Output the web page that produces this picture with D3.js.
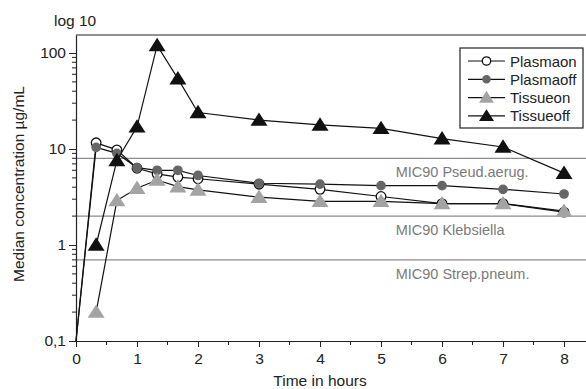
<!DOCTYPE html>
<html>
<head>
<meta charset="utf-8">
<script src="https://cdn.jsdelivr.net/npm/d3@7"></script>
<style>
  body { margin: 0; background: #fff; }
  text { font-family: "Liberation Sans", Arial, sans-serif; }
</style>
</head>
<body>
<div id="chart"></div>
<script>
// hours after dose
var hours = [0, 0.33, 0.67, 1, 1.33, 1.67, 2, 3, 4, 5, 6, 7, 8];

// median concentrations, µg/mL (null = no measurement)
var plasmaOn  = [0.1, 11.6, 9.8, 6.3, 5.5, 5.1, 4.9, 4.3, 3.8, 3.2, 2.7, 2.7, 2.2];
var plasmaOff = [0.1, 10.4, 9.0, 6.4, 6.0, 6.0, 5.3, 4.4, 4.3, 4.15, 4.15, 3.8, 3.4];
var tissueOn  = [null, 0.2, 2.9, 3.9, 4.75, 4.05, 3.75, 3.15, 2.85, 2.85, 2.7, 2.7, 2.25];
var tissueOff = [null, 1.0, 7.6, 17, 120, 54, 24, 20, 17.8, 16.4, 12.8, 10.5, 5.6];

var seriesNames = ["Plasmaon", "Plasmaoff", "Tissueon", "Tissueoff"];

var micNames = ["MIC90 Pseud.aerug.", "MIC90 Klebsiella", "MIC90 Strep.pneum."];
var micValues = [8, 2, 0.7];

var xTicks = [0, 1, 2, 3, 4, 5, 6, 7, 8];
var yTicks = [0.1, 1, 10, 100];
var yTickLabels = ["0,1", "1", "10", "100"];

var W = 586, H = 389;
var margin = { top: 35, right: 0, bottom: 48, left: 76 };
var width = W - margin.left - margin.right,
    height = H - margin.top - margin.bottom;

var svg = d3.select("#chart").append("svg")
    .attr("width", W)
    .attr("height", H);

var g = svg.append("g")
    .attr("transform", "translate(" + margin.left + "," + margin.top + ")");

var x = d3.scaleLinear().domain([0, 8.36]).range([0, width]);
var y = d3.scaleLog().domain([0.1, 154]).range([height, 0]);

// MIC90 reference lines
micValues.forEach(function (v, i) {
    g.append("line")
        .attr("x1", 0).attr("x2", width)
        .attr("y1", y(v)).attr("y2", y(v))
        .attr("stroke", "#8c8c8c")
        .attr("stroke-width", 1.2);
    g.append("text")
        .attr("x", x(5.24))
        .attr("y", y(v) + 19)
        .attr("fill", "#7a7a7a")
        .style("font-size", "14.5px")
        .text(micNames[i]);
});

// frame: top line
g.append("line")
    .attr("x1", 0).attr("x2", width)
    .attr("y1", 0).attr("y2", 0)
    .attr("stroke", "#222").attr("stroke-width", 1.2);

// x axis
var xAxis = g.append("g")
    .attr("transform", "translate(0," + height + ")")
    .call(d3.axisBottom(x).tickValues(xTicks).tickSize(6).tickSizeOuter(0).tickFormat(d3.format("d")));
var xMinor = d3.range(0.5, 8.5, 1);
xAxis.selectAll(".minor").data(xMinor).enter().append("line")
    .attr("class", "minor")
    .attr("x1", function (d) { return x(d); }).attr("x2", function (d) { return x(d); })
    .attr("y1", 0).attr("y2", 4)
    .attr("stroke", "#222");

// y axis
var yAxis = g.append("g")
    .call(d3.axisLeft(y).tickValues(yTicks).tickSize(7).tickSizeOuter(0)
        .tickFormat(function (d, i) { return yTickLabels[i]; }));
var yMinor = [];
[0.1, 1, 10, 100].forEach(function (dec) {
    for (var k = 2; k <= 9; k++) {
        if (dec * k < 154) yMinor.push(dec * k);
    }
});
yAxis.selectAll(".minor").data(yMinor).enter().append("line")
    .attr("class", "minor")
    .attr("x1", 0).attr("x2", -4)
    .attr("y1", function (d) { return y(d); }).attr("y2", function (d) { return y(d); })
    .attr("stroke", "#222");

[xAxis, yAxis].forEach(function (a) {
    a.select(".domain").attr("stroke", "#222").attr("stroke-width", 1.2);
    a.selectAll(".tick line").attr("stroke", "#222");
    a.selectAll("text").attr("fill", "#222").style("font-size", "15.5px")
        .style("font-family", "'Liberation Sans', Arial, sans-serif");
});
xAxis.selectAll(".tick text").attr("dy", "0.9em");

// axis titles
svg.append("text")
    .attr("x", margin.left + x(4)).attr("y", H - 3)
    .attr("text-anchor", "middle")
    .style("font-size", "15.5px").attr("fill", "#222")
    .text("Time in hours");
svg.append("text")
    .attr("transform", "translate(24,184) rotate(-90)")
    .attr("text-anchor", "middle")
    .style("font-size", "15.5px").attr("fill", "#222")
    .text("Median concentration µg/mL");
svg.append("text")
    .attr("x", 54).attr("y", 26)
    .style("font-size", "15.5px").attr("fill", "#222")
    .text("log 10");

// series
var series = [
    { name: seriesNames[0], values: plasmaOn,  shape: "circle",   fill: "#fff",    stroke: "#111", r: 4.8 },
    { name: seriesNames[1], values: plasmaOff, shape: "circle",   fill: "#666",    stroke: "#666", r: 4.2 },
    { name: seriesNames[2], values: tissueOn,  shape: "triangle", fill: "#a3a3a3", stroke: "none", r: 8.5 },
    { name: seriesNames[3], values: tissueOff, shape: "triangle", fill: "#111",    stroke: "none", r: 8.5 }
];

var line = d3.line()
    .defined(function (d) { return d.v != null; })
    .x(function (d) { return x(d.t); })
    .y(function (d) { return y(d.v); });

function triPath(s) {
    var h = s * 0.9;
    return "M0," + (-h) + "L" + s + "," + (h * 0.75) + "L" + (-s) + "," + (h * 0.75) + "Z";
}

function drawMarker(sel, s) {
    if (s.shape === "circle") {
        sel.append("circle").attr("r", s.r)
            .attr("fill", s.fill).attr("stroke", s.stroke).attr("stroke-width", 1.3);
    } else {
        sel.append("path").attr("d", triPath(s.r)).attr("fill", s.fill);
    }
}

series.forEach(function (s) {
    var pts = hours.map(function (t, i) { return { t: t, v: s.values[i] }; });
    g.append("path")
        .datum(pts)
        .attr("fill", "none")
        .attr("stroke", "#111")
        .attr("stroke-width", 1.2)
        .attr("d", line);
    pts.filter(function (d) { return d.v != null && d.v > 0.1; }).forEach(function (d) {
        var m = g.append("g").attr("transform", "translate(" + x(d.t) + "," + y(d.v) + ")");
        drawMarker(m, s);
    });
});

// legend
var lg = svg.append("g").attr("transform", "translate(460,48)");
lg.append("rect")
    .attr("width", 123).attr("height", 80)
    .attr("fill", "#fff").attr("stroke", "#222").attr("stroke-width", 1.2);
series.forEach(function (s, i) {
    var row = lg.append("g").attr("transform", "translate(0," + (13 + i * 18.3) + ")");
    row.append("line").attr("x1", 8).attr("x2", 45).attr("y1", 0).attr("y2", 0)
        .attr("stroke", "#111").attr("stroke-width", 1.2);
    var m = row.append("g").attr("transform", "translate(26.5,0)");
    drawMarker(m, s.shape === "triangle" ? Object.assign({}, s, { r: 7.5 }) : Object.assign({}, s, { r: s.r - 0.6 }));
    row.append("text").attr("x", 50).attr("y", 5.5)
        .style("font-size", "15px").attr("fill", "#222")
        .text(s.name);
});
</script>
</body>
</html>
